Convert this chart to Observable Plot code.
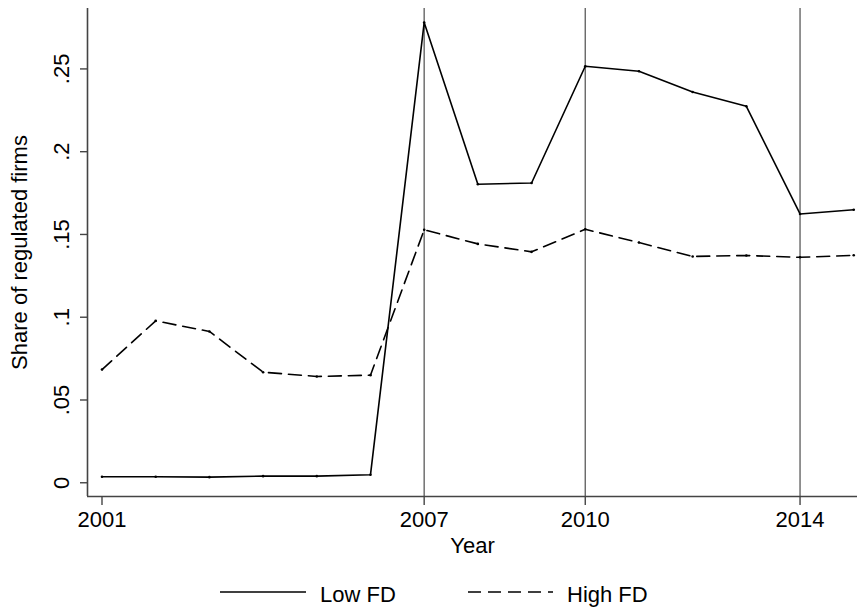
<!DOCTYPE html>
<html>
<head>
<meta charset="utf-8">
<script src="https://cdn.jsdelivr.net/npm/d3@7"></script>
<script src="https://cdn.jsdelivr.net/npm/@observablehq/plot@0.6"></script>
<style>
  html, body { margin: 0; padding: 0; background: #fff; }
  #wrap { position: relative; width: 857px; height: 610px; font-family: "Liberation Sans", Arial, sans-serif; }
  #legend { position: absolute; left: 0; top: 560px; }
</style>
</head>
<body>
<div id="wrap"><div id="chart"></div><svg id="legend" width="857" height="50"></svg></div>
<script>
// ---- data ----
const years = [2001, 2002, 2003, 2004, 2005, 2006, 2007, 2008, 2009, 2010, 2011, 2012, 2013, 2014, 2015];
const lowFD = [0.0036, 0.0036, 0.0034, 0.0040, 0.0040, 0.0048, 0.2780, 0.1803, 0.1811, 0.2516, 0.2486, 0.2361, 0.2274, 0.1624, 0.1649];
const highFD = [0.0684, 0.0978, 0.0914, 0.0668, 0.0642, 0.0650, 0.1528, 0.1443, 0.1395, 0.1531, 0.1451, 0.1367, 0.1373, 0.1362, 0.1374];
const seriesNames = ["Low FD", "High FD"];
const refYears = [2007, 2010, 2014];
const xTicks = [2001, 2007, 2010, 2014];
const yTicks = [0, 0.05, 0.1, 0.15, 0.2, 0.25];
const yTickLabels = ["0", ".05", ".1", ".15", ".2", ".25"];
const xDomain = [2000.73, 2015.07];
const yDomain = [-0.0083, 0.2865];

const rows = [];
years.forEach((yr, i) => {
  rows.push({year: yr, value: lowFD[i], series: seriesNames[0]});
  rows.push({year: yr, value: highFD[i], series: seriesNames[1]});
});
const low = rows.filter(d => d.series === seriesNames[0]);
const high = rows.filter(d => d.series === seriesNames[1]);

const axisColor = "#444";
const dash = "13,7";

const chart = Plot.plot({
  width: 857,
  height: 560,
  marginLeft: 87,
  marginRight: 0,
  marginTop: 8,
  marginBottom: 64,
  x: {domain: xDomain},
  y: {domain: yDomain},
  style: {fontFamily: "'Liberation Sans', Arial, sans-serif", fontSize: "22px", color: "#000", background: "#fff"},
  marks: [
    Plot.ruleX(refYears, {stroke: "#666", strokeWidth: 1.4}),
    Plot.ruleX([xDomain[0]], {stroke: axisColor, strokeWidth: 1.6}),
    Plot.ruleY([yDomain[0]], {stroke: axisColor, strokeWidth: 1.6}),
    Plot.axisY(yTicks, {tickSize: 7, tickFormat: () => "", label: null, stroke: axisColor, strokeWidth: 1.4}),
    Plot.text(yTicks, {x: xDomain[0], y: d => d, text: (d, i) => yTickLabels[i], rotate: -90, textAnchor: "middle", lineAnchor: "bottom", dx: -19, fontSize: 22, fill: "#000"}),
    Plot.text(["Share of regulated firms"], {frameAnchor: "left", rotate: -90, textAnchor: "middle", lineAnchor: "middle", dx: -68, fontSize: 22, fill: "#000"}),
    Plot.axisX(xTicks, {tickSize: 9, tickPadding: 6, tickFormat: d => String(d), label: null, stroke: axisColor, strokeWidth: 1.4, fontSize: 22, fill: "#000"}),
    Plot.text(["Year"], {frameAnchor: "bottom", lineAnchor: "bottom", dy: 56, fontSize: 22, fill: "#000"}),
    Plot.line(low, {x: "year", y: "value", stroke: "#000", strokeWidth: 1.6}),
    Plot.line(high, {x: "year", y: "value", stroke: "#000", strokeWidth: 1.6, strokeDasharray: dash}),
    Plot.dot(rows, {x: "year", y: "value", r: 1.3, fill: "#000"})
  ]
});
document.getElementById("chart").appendChild(chart);

// legend
const lg = d3.select("#legend");
const items = [
  {name: seriesNames[0], x0: 220, x1: 306, tx: 320, dash: null},
  {name: seriesNames[1], x0: 468, x1: 553, tx: 567, dash: dash}
];
items.forEach(it => {
  lg.append("line").attr("x1", it.x0).attr("x2", it.x1).attr("y1", 32).attr("y2", 32)
    .attr("stroke", "#000").attr("stroke-width", 1.6).attr("stroke-dasharray", it.dash);
  lg.append("text").attr("x", it.tx).attr("y", 42).attr("font-size", 22)
    .attr("font-family", "'Liberation Sans', Arial, sans-serif").attr("fill", "#000").text(it.name);
});
</script>
</body>
</html>
